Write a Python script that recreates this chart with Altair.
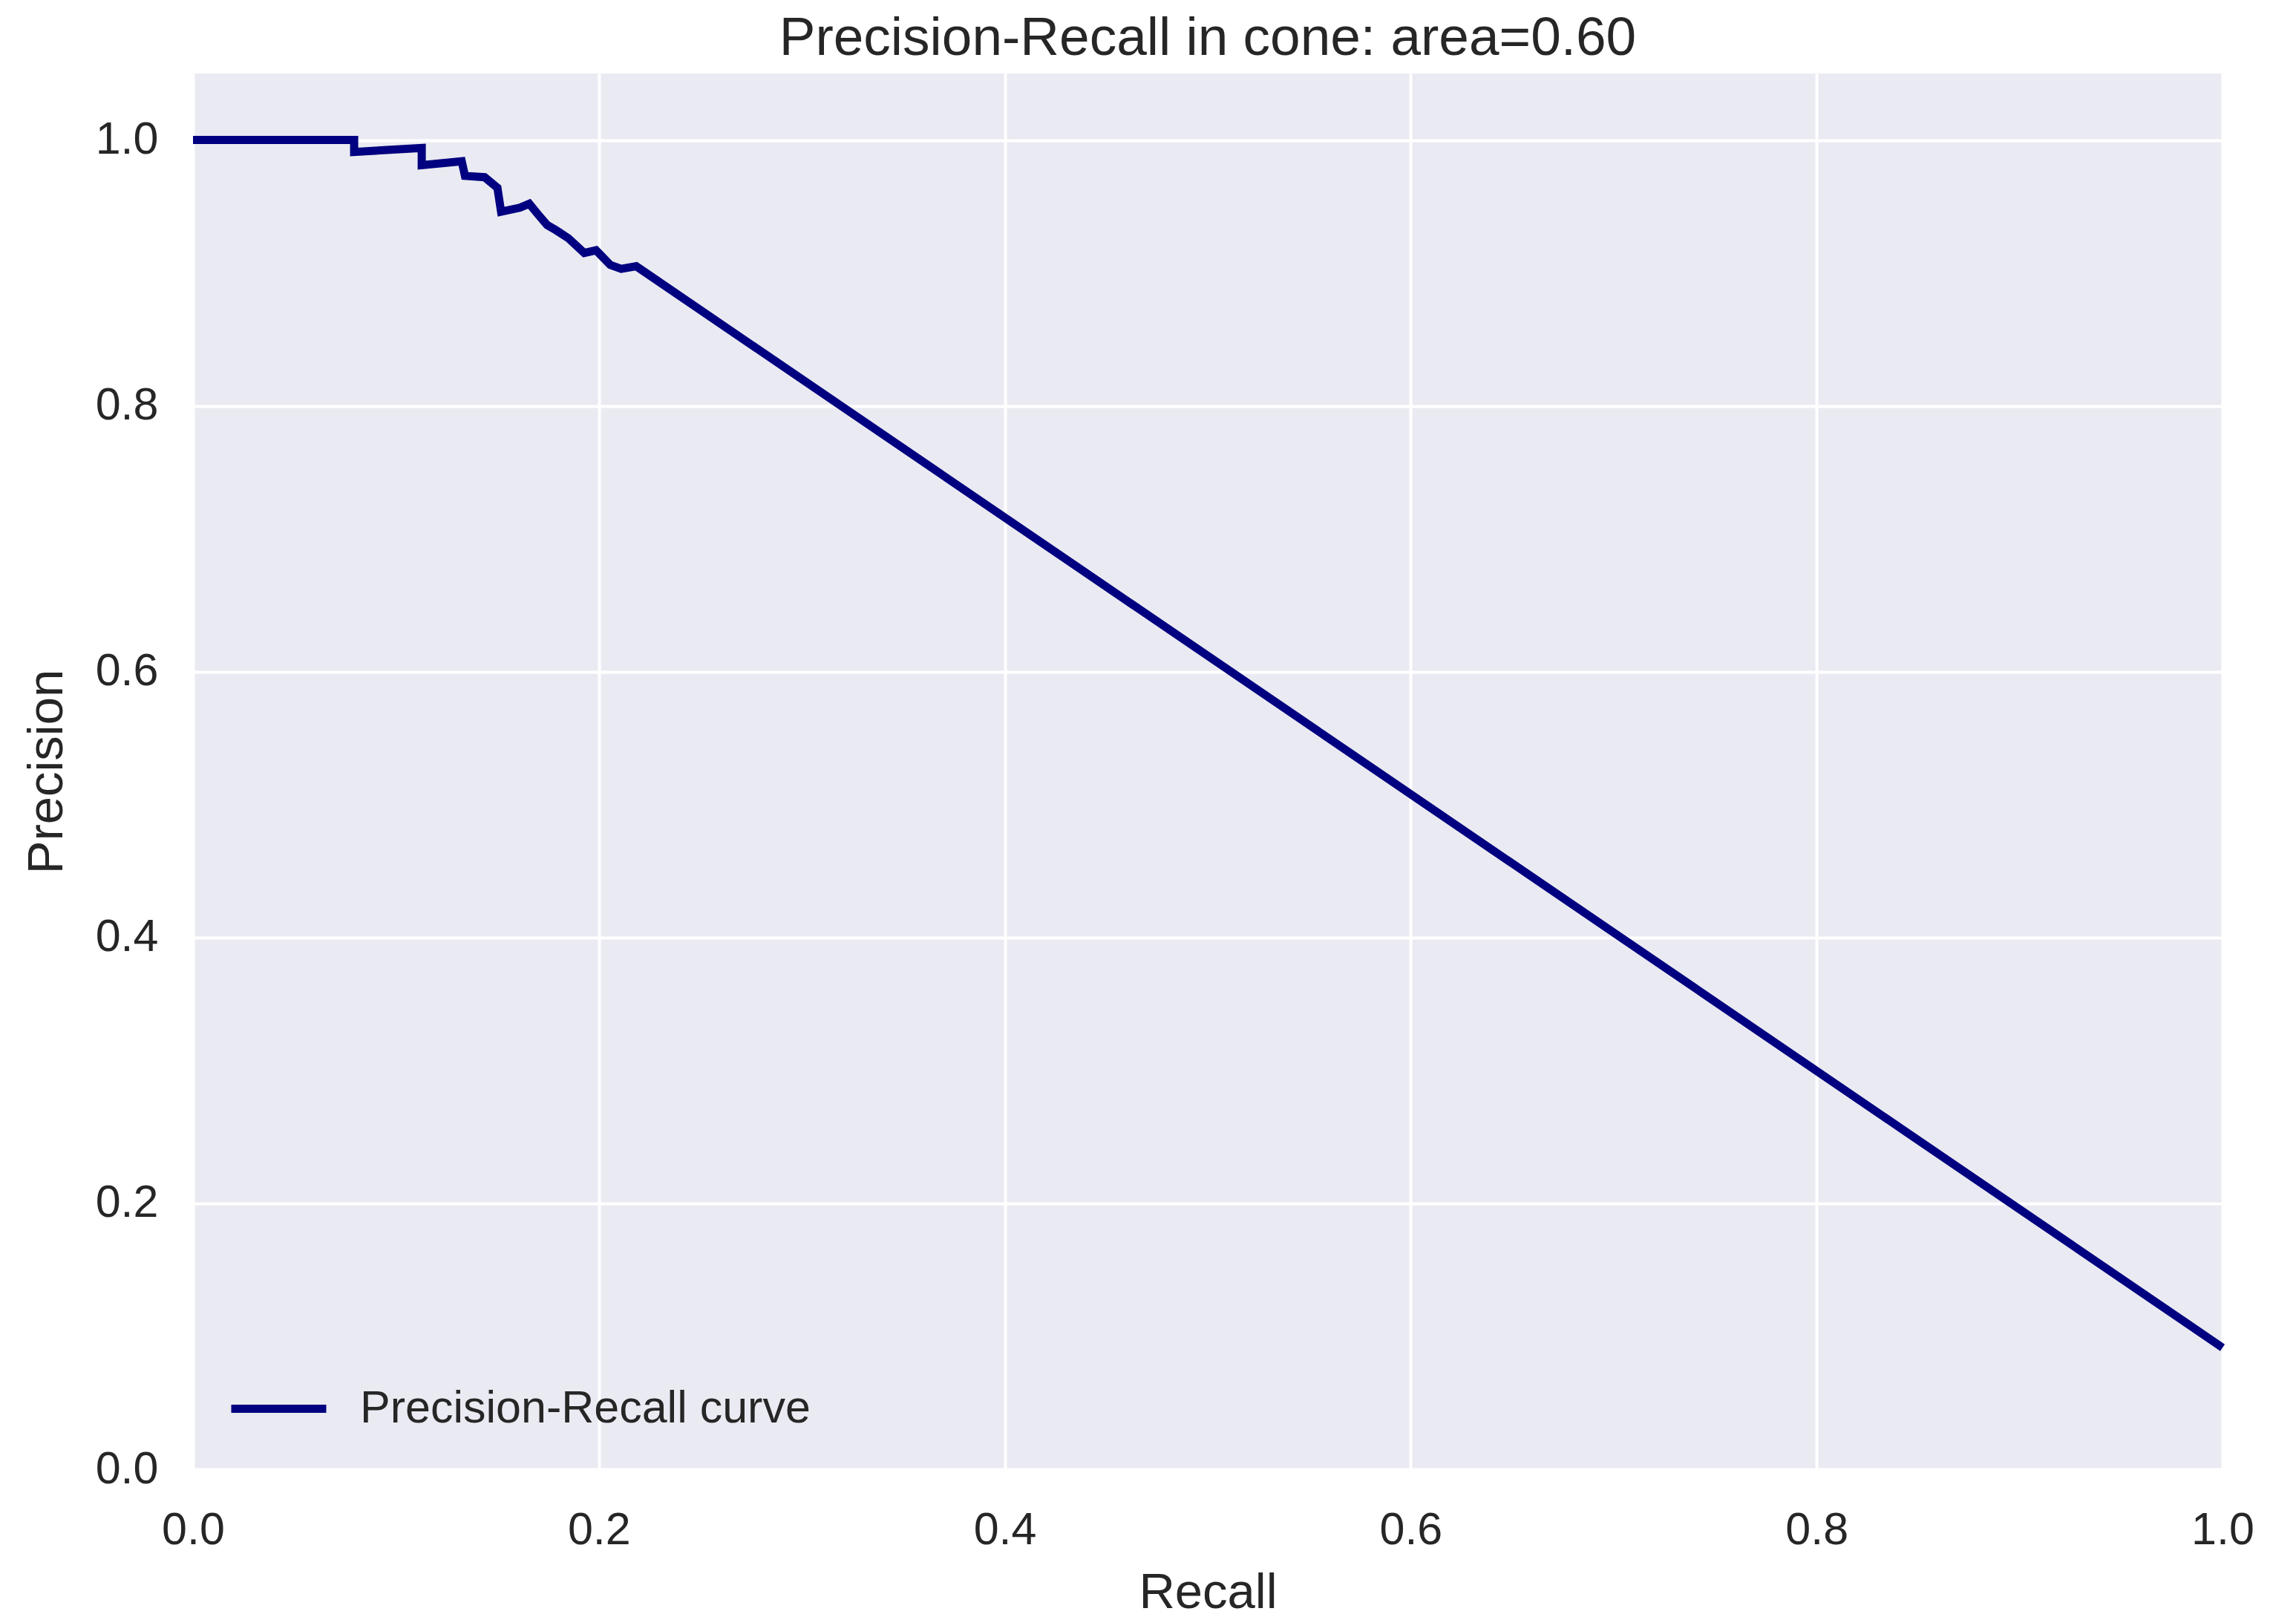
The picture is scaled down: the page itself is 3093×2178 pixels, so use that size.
import altair as alt
import pandas as pd

# Values
recall = [0.0, 0.0794, 0.0794, 0.1127, 0.1127, 0.1324, 0.1340, 0.1437, 0.1500,
          0.1518, 0.1610, 0.1657, 0.1700, 0.1745, 0.1790, 0.1850, 0.1928, 0.1986,
          0.2056, 0.2110, 0.2184, 1.0]
precision = [1.0, 1.0, 0.991, 0.994, 0.981, 0.984, 0.973, 0.972, 0.964,
             0.946, 0.949, 0.952, 0.944, 0.936, 0.932, 0.926, 0.915, 0.917,
             0.906, 0.903, 0.905, 0.0915]
series_name = "Precision-Recall curve"
tick_values = [0.0, 0.2, 0.4, 0.6, 0.8, 1.0]
title_text = "Precision-Recall in cone: area=0.60"

df = pd.DataFrame({
    "Recall": recall,
    "Precision": precision,
    "idx": list(range(len(recall))),
    "series": [series_name] * len(recall),
})

FONT = "Liberation Sans"
TXT = "#262626"

chart = alt.Chart(df).mark_line(strokeWidth=11, clip=False).encode(
    x=alt.X("Recall:Q",
            scale=alt.Scale(domain=[0, 1], nice=False, zero=False),
            axis=alt.Axis(values=tick_values, format=".1f", labelFlush=False,
                          labelPadding=52, titleY=166, titleBaseline="middle",
                          title="Recall")),
    y=alt.Y("Precision:Q",
            scale=alt.Scale(domain=[0, 1.05], nice=False, zero=False),
            axis=alt.Axis(values=tick_values, format=".1f", labelFlush=False,
                          labelPadding=47, titleX=-197, titleY=940,
                          titleBaseline="middle", titleAngle=270,
                          title="Precision")),
    color=alt.Color("series:N",
                    scale=alt.Scale(domain=[series_name], range=["#000080"]),
                    legend=alt.Legend(title=None, orient="none",
                                      legendX=46, legendY=1729,
                                      symbolType="stroke", symbolSize=16384,
                                      symbolStrokeWidth=11, labelOffset=40,
                                      labelFontSize=61, labelFont=FONT,
                                      labelColor=TXT, labelLimit=0, padding=0)),
    order="idx:Q",
).properties(
    width=2734,
    height=1880,
    title=alt.TitleParams(title_text, fontSize=73, font=FONT, fontWeight="normal",
                          color=TXT, offset=10, anchor="middle"),
    autosize=alt.AutoSizeParams(type="none"),
    padding={"left": 260, "top": 99, "right": 99, "bottom": 199},
    background="white",
).configure_view(
    fill="#EAEAF2", stroke=None
).configure_axis(
    domain=False, ticks=False, tickSize=0,
    grid=True, gridColor="white", gridWidth=4,
    labelFont=FONT, labelFontSize=61, labelColor=TXT,
    titleFont=FONT, titleFontSize=67, titleFontWeight="normal", titleColor=TXT,
)

chart.save("out.html", embed_options={"renderer": "svg", "actions": False})
